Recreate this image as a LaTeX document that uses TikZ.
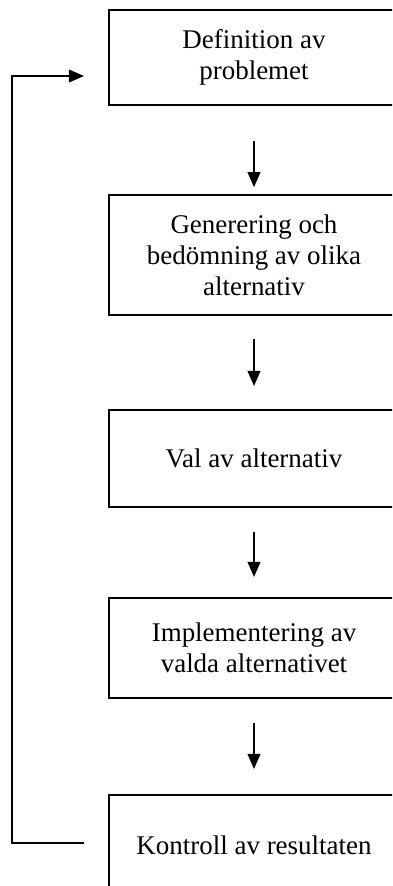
\documentclass[tikz,border=0pt]{standalone}
\usepackage{fontspec}
\setmainfont{Liberation Serif}
\usetikzlibrary{arrows.meta,calc}
\tikzstyle{proc}  = [rectangle, draw, line width=0.9pt, minimum width=129pt,
                     align=center, inner sep=2pt, font=\fontsize{12}{13.8}\selectfont]
\tikzstyle{arrow} = [draw, line width=0.9pt, -{Triangle[length=6.7pt,width=5.6pt]}]
\begin{document}
\begin{tikzpicture}[x=0.445pt, y=-0.445pt]
		\path[use as bounding box, clip] (0,0) rectangle (392,886);

		\node[proc, minimum height=42.3pt] (def) at (254,57.5) {Definition av\\problemet};
		\node[proc, minimum height=53.4pt] (gen) at (254,255) {Generering och\\bedömning av olika\\alternativ};
		\node[proc, minimum height=43.2pt] (val) at (254,458.5) {Val av alternativ};
		\node[proc, minimum height=44.5pt] (imp) at (254,648) {Implementering av\\valda alternativet};
		\node[proc, minimum height=44.5pt] (kon) at (254,845) {Kontroll av resultaten};

		\draw[arrow, shorten <=15.6pt, shorten >=3pt] (def) -- (gen);
		\draw[arrow, shorten <=10.2pt, shorten >=10.2pt] (gen) -- (val);
		\draw[arrow, shorten <=10.7pt, shorten >=8.9pt] (val) -- (imp);
		\draw[arrow, shorten <=10.7pt, shorten >=11.1pt] (imp) -- (kon);

		% feedback loop
		\coordinate (back) at ($(def.west)+(-24,18.5)$);
		\draw[arrow] ($(kon.west)+(-24,-2)$) -- ++(-72,0) |- (back);
	\end{tikzpicture}
\end{document}
